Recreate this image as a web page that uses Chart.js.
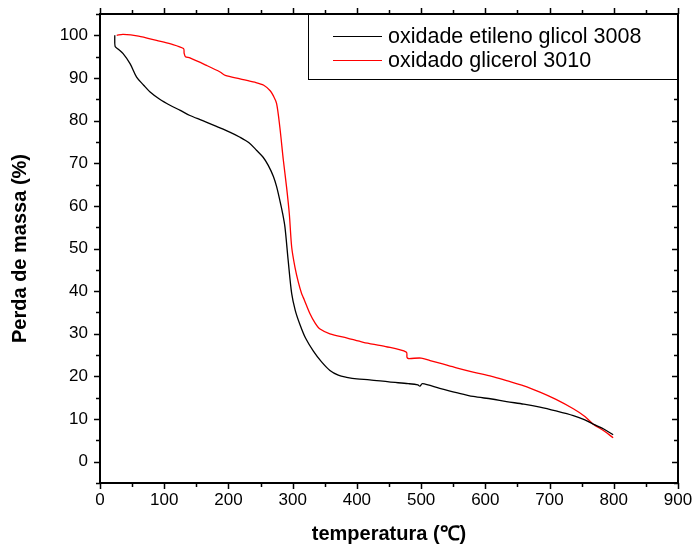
<!DOCTYPE html>
<html>
<head>
<meta charset="utf-8">
<script src="https://cdn.jsdelivr.net/npm/chart.js@4/dist/chart.umd.min.js"></script>
<style>
  html, body { margin: 0; padding: 0; background: #fff; }
  #wrap { width: 693px; height: 550px; }
</style>
</head>
<body>
<div id="wrap"><canvas id="c" width="693" height="550"></canvas></div>
<script>
// Thermogravimetric curves: mass (%) versus temperature (°C)
const seriesNames = ['oxidade etileno glicol 3008', 'oxidado glicerol 3010'];
const seriesColors = ['#000000', '#ff0000'];

const tempEtileno = [23, 23.5, 28, 36, 47, 57, 68, 78, 93, 109, 125, 140, 160, 182, 202, 218, 232, 244, 254, 262, 270, 275, 280, 284, 288, 293, 298.5, 304, 311, 320, 332, 345, 358, 371, 384, 400, 420, 450, 480, 495, 498, 502, 529, 555, 581, 610, 633, 660, 685, 710, 737, 755, 768, 785, 799];
const massEtileno = [100, 97.4, 96.8, 95.7, 93.3, 90.2, 88.3, 86.7, 85, 83.6, 82.4, 81.2, 80, 78.6, 77.3, 76.1, 74.8, 73, 71.4, 69.5, 66.9, 64.5, 61.3, 58.5, 55, 47.2, 39.4, 35.5, 32.3, 29, 26, 23.4, 21.4, 20.3, 19.8, 19.4, 19.2, 18.7, 18.3, 18, 17.7, 18.3, 17.2, 16.2, 15.3, 14.7, 14.1, 13.5, 12.8, 11.9, 10.8, 9.8, 8.8, 7.6, 6.3];

const tempGlicerol = [26, 36, 60, 88, 110, 130, 131, 133, 140, 165, 187, 195, 218, 241, 255, 265, 270, 275, 280, 285.5, 290.5, 294.8, 298.5, 303.6, 309, 314, 316, 318, 327, 335, 342.6, 358, 385, 410, 445, 477, 478, 480, 500, 514, 529, 555, 581, 610, 633, 660, 685, 710, 737, 755, 768, 785, 799];
const massGlicerol = [100, 100.2, 99.8, 98.8, 98, 96.9, 95.8, 95, 94.7, 93, 91.4, 90.6, 89.8, 89, 88.3, 87, 85.8, 84, 78.5, 70.7, 64.4, 58.1, 50.3, 45.6, 42, 39.4, 38.7, 38, 34.7, 32.5, 31.1, 30, 29, 28, 27, 25.7, 24.5, 24.2, 24.3, 23.7, 23.1, 22, 21, 20, 19, 17.8, 16.3, 14.6, 12.4, 10.6, 8.8, 7.2, 5.6];

const xTicks = [0, 100, 200, 300, 400, 500, 600, 700, 800, 900];
const yTicks = [0, 10, 20, 30, 40, 50, 60, 70, 80, 90, 100];

const toPoints = (xs, ys) => xs.map((x, i) => ({ x: x, y: ys[i] }));

const FONT = '"Liberation Sans", Arial, sans-serif';

// Frame, major/minor ticks on all four sides, and the boxed legend
const framePlugin = {
  id: 'frame',
  afterDatasetsDraw(chart) {
    const { ctx, chartArea: a, scales } = chart;
    const xs = scales.x, ys = scales.y;
    ctx.save();
    ctx.strokeStyle = '#000';
    ctx.lineWidth = 2;
    ctx.strokeRect(a.left, a.top, a.right - a.left, a.bottom - a.top);
    ctx.lineWidth = 1.5;
    ctx.beginPath();
    for (let v = 0; v <= 900; v += 50) {
      const px = Math.round(xs.getPixelForValue(v)) + 0.5;
      const major = v % 100 === 0;
      const len = major ? 6 : 4;
      ctx.moveTo(px, a.bottom); ctx.lineTo(px, a.bottom + len);
      ctx.moveTo(px, a.top); ctx.lineTo(px, a.top - len);
    }
    for (let v = -5; v <= 105; v += 5) {
      const py = Math.round(ys.getPixelForValue(v)) + 0.5;
      const major = v % 10 === 0;
      const len = major ? 6 : 4;
      ctx.moveTo(a.left, py); ctx.lineTo(a.left - len, py);
      ctx.moveTo(a.right, py); ctx.lineTo(a.right - len, py);
    }
    ctx.stroke();

    // legend box
    const lx = 308, ly = a.top, lw = a.right - 308, lh = 80 - a.top;
    ctx.fillStyle = '#fff';
    ctx.fillRect(lx, ly, lw, lh);
    ctx.lineWidth = 1;
    ctx.strokeStyle = '#000';
    ctx.strokeRect(lx + 0.5, ly + 0.5, lw - 1, lh - 1);
    ctx.font = '21.5px ' + FONT;
    ctx.textBaseline = 'middle';
    chart.data.datasets.forEach((ds, i) => {
      const cy = 36 + i * 24;
      ctx.strokeStyle = ds.borderColor;
      ctx.lineWidth = 1.2;
      ctx.beginPath();
      ctx.moveTo(333, cy + 0.5); ctx.lineTo(382, cy + 0.5);
      ctx.stroke();
      ctx.fillStyle = '#000';
      ctx.fillText(ds.label, 388, cy + 1);
    });
    ctx.restore();
  }
};

new Chart(document.getElementById('c'), {
  type: 'line',
  data: {
    datasets: [
      { label: seriesNames[0], data: toPoints(tempEtileno, massEtileno), borderColor: seriesColors[0], borderWidth: 1.3, pointRadius: 0, tension: 0.3, fill: false },
      { label: seriesNames[1], data: toPoints(tempGlicerol, massGlicerol), borderColor: seriesColors[1], borderWidth: 1.3, pointRadius: 0, tension: 0.3, fill: false }
    ]
  },
  options: {
    responsive: false,
    animation: false,
    layout: { padding: { top: 14, right: 15, left: 0, bottom: 0 } },
    plugins: { legend: { display: false }, tooltip: { enabled: false } },
    scales: {
      x: {
        type: 'linear',
        min: 0, max: 900,
        afterBuildTicks: s => { s.ticks = xTicks.map(v => ({ value: v })); },
        afterFit: s => { s.height = 67; s.paddingLeft = 0; s.paddingRight = 0; },
        grid: { display: false, drawTicks: false },
        border: { display: false },
        ticks: { color: '#000', font: { family: FONT, size: 17 }, padding: 7, maxRotation: 0 },
        title: { display: true, text: 'temperatura (℃)', color: '#000', font: { family: FONT, size: 20, weight: 'bold' }, padding: { top: 8 } }
      },
      y: {
        type: 'linear',
        min: -5, max: 105,
        afterBuildTicks: s => { s.ticks = yTicks.map(v => ({ value: v })); },
        afterFit: s => { s.width = 100; s.paddingTop = 0; s.paddingBottom = 0; },
        grid: { display: false, drawTicks: false },
        border: { display: false },
        ticks: { color: '#000', font: { family: FONT, size: 17 }, padding: 12 },
        title: { display: true, text: 'Perda de massa (%)', color: '#000', font: { family: FONT, size: 20, weight: 'bold' }, padding: { top: 8, bottom: 8 } }
      }
    }
  },
  plugins: [framePlugin]
});
</script>
</body>
</html>
